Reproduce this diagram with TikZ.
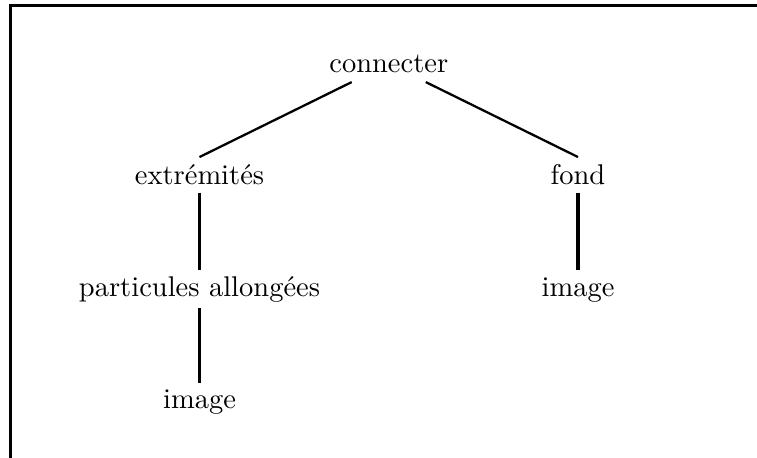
\documentclass[tikz,border=0pt]{standalone}
\usepackage{fontspec}
\usetikzlibrary{calc}
\begin{document}
\begin{tikzpicture}[x=1pt,y=1pt,
  lbl/.style={anchor=base,inner sep=0pt,font=\fontsize{10}{12}\selectfont},
  edge/.style={line width=0.8pt},
  vedge/.style={line width=1.35pt},
  frameline/.style={line width=1.2pt}]
\useasboundingbox (0,0) rectangle (265.6,-160.35);
% frame (left and top sides)
\coordinate (ftl) at (3.7,-1.93);
\coordinate (ftr) at (270,-1.93);
\coordinate (fbl) at (3.7,-165);
\draw[frameline] (fbl) -- (ftl) -- (ftr);
% nodes
\node[lbl] (con) at (136.4,-25.6) {connecter};
\node[lbl] (ext) at (70.0,-64.9) {extrémités};
\node[lbl] (fond) at (202.8,-64.9) {fond};
\node[lbl] (part) at (70.0,-104.2) {particules allongées};
\node[lbl] (imgr) at (202.8,-104.2) {image};
\node[lbl] (imgl) at (70.0,-143.5) {image};
% connectors
\draw[edge] ($(con.base)+(-13pt,-3.2pt)$) -- ($(ext.base)+(0,9.8pt)$);
\draw[edge] ($(con.base)+(13pt,-3.2pt)$) -- ($(fond.base)+(0,9.8pt)$);
\draw[vedge] ($(ext.base)+(0,-2.8pt)$) -- ($(part.base)+(0,9.5pt)$);
\draw[vedge] ($(part.base)+(0,-3.9pt)$) -- ($(imgl.base)+(0,9.1pt)$);
\draw[vedge] ($(fond.base)+(0,-2.8pt)$) -- ($(imgr.base)+(0,9.5pt)$);
\end{tikzpicture}
\end{document}
